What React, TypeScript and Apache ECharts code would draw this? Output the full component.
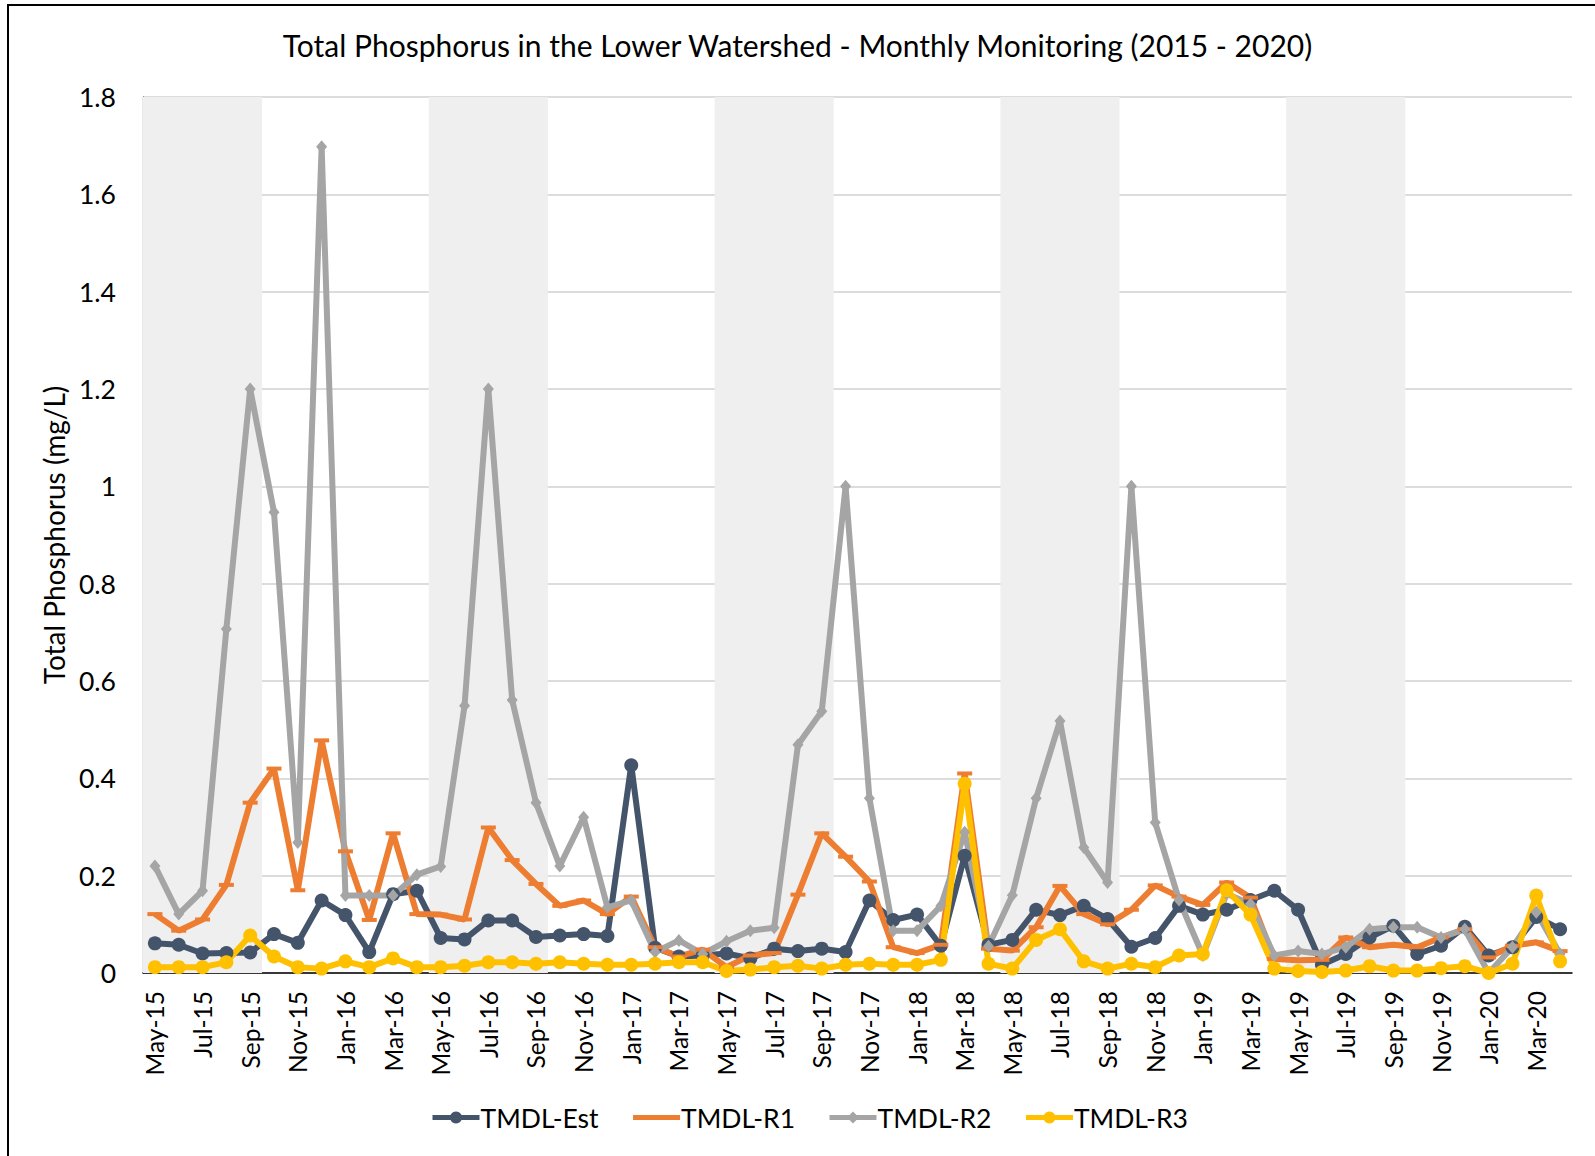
import React, { useEffect, useRef } from "react";
import * as echarts from "echarts";

const months: string[] = [
  "May-15", "Jun-15", "Jul-15", "Aug-15", "Sep-15", "Oct-15", "Nov-15", "Dec-15",
  "Jan-16", "Feb-16", "Mar-16", "Apr-16", "May-16", "Jun-16", "Jul-16", "Aug-16", "Sep-16", "Oct-16", "Nov-16", "Dec-16",
  "Jan-17", "Feb-17", "Mar-17", "Apr-17", "May-17", "Jun-17", "Jul-17", "Aug-17", "Sep-17", "Oct-17", "Nov-17", "Dec-17",
  "Jan-18", "Feb-18", "Mar-18", "Apr-18", "May-18", "Jun-18", "Jul-18", "Aug-18", "Sep-18", "Oct-18", "Nov-18", "Dec-18",
  "Jan-19", "Feb-19", "Mar-19", "Apr-19", "May-19", "Jun-19", "Jul-19", "Aug-19", "Sep-19", "Oct-19", "Nov-19", "Dec-19",
  "Jan-20", "Feb-20", "Mar-20", "Apr-20",
];

// Shaded monitoring seasons (first and last month of each band)
const seasonStart = "May";
const seasonEnd = "Sep";

const tmdlEst: number[] = [
  0.061, 0.058, 0.040, 0.041, 0.042, 0.080, 0.062, 0.149,
  0.119, 0.043, 0.162, 0.169, 0.072, 0.069, 0.108, 0.108, 0.074, 0.077, 0.080, 0.076,
  0.427, 0.052, 0.034, 0.036, 0.040, 0.030, 0.050, 0.045, 0.050, 0.043, 0.149, 0.109,
  0.120, 0.056, 0.241, 0.058, 0.068, 0.130, 0.119, 0.138, 0.111, 0.054, 0.072, 0.138,
  0.120, 0.130, 0.150, 0.169, 0.130, 0.017, 0.039, 0.073, 0.097, 0.039, 0.056, 0.095,
  0.036, 0.053, 0.115, 0.090,
];

const tmdlR1: number[] = [
  0.121, 0.087, 0.110, 0.181, 0.350, 0.420, 0.170, 0.478,
  0.250, 0.109, 0.287, 0.121, 0.120, 0.110, 0.299, 0.232, 0.183, 0.138, 0.149, 0.121,
  0.157, 0.053, 0.034, 0.048, 0.012, 0.036, 0.041, 0.161, 0.287, 0.239, 0.188, 0.053,
  0.041, 0.058, 0.410, 0.050, 0.046, 0.094, 0.179, 0.121, 0.100, 0.130, 0.180, 0.157,
  0.140, 0.186, 0.155, 0.029, 0.026, 0.027, 0.073, 0.053, 0.058, 0.053, 0.073, 0.090,
  0.032, 0.056, 0.063, 0.045,
];

const tmdlR2: number[] = [
  0.220, 0.121, 0.169, 0.707, 1.200, 0.947, 0.268, 1.698,
  0.159, 0.159, 0.159, 0.202, 0.219, 0.549, 1.200, 0.561, 0.350, 0.220, 0.320, 0.135,
  0.149, 0.043, 0.067, 0.039, 0.065, 0.087, 0.093, 0.469, 0.538, 1.000, 0.359, 0.087,
  0.087, 0.138, 0.289, 0.055, 0.160, 0.359, 0.518, 0.258, 0.186, 1.000, 0.309, 0.150,
  0.036, 0.163, 0.142, 0.036, 0.045, 0.039, 0.053, 0.090, 0.094, 0.094, 0.073, 0.090,
  0.000, 0.053, 0.125, 0.039,
];

const tmdlR3: number[] = [
  0.012, 0.012, 0.012, 0.022, 0.077, 0.034, 0.012, 0.009,
  0.024, 0.012, 0.030, 0.012, 0.012, 0.015, 0.022, 0.022, 0.019, 0.022, 0.019, 0.017,
  0.017, 0.019, 0.022, 0.022, 0.004, 0.007, 0.012, 0.015, 0.009, 0.017, 0.019, 0.017,
  0.017, 0.027, 0.389, 0.019, 0.009, 0.068, 0.090, 0.024, 0.009, 0.019, 0.012, 0.036,
  0.039, 0.170, 0.120, 0.009, 0.004, 0.002, 0.005, 0.014, 0.005, 0.005, 0.010, 0.014,
  0.000, 0.019, 0.159, 0.024,
];

const Y_MAX = 1.8;
const FONT = "Lato";

const seriesStyles = [
  { name: "TMDL-Est", data: tmdlEst, color: "#44546A", symbol: "circle", size: 14 },
  { name: "TMDL-R1", data: tmdlR1, color: "#ED7D31", symbol: "rect", size: [15, 4] },
  { name: "TMDL-R2", data: tmdlR2, color: "#A5A5A5", symbol: "diamond", size: [11, 13] },
  { name: "TMDL-R3", data: tmdlR3, color: "#FFC000", symbol: "circle", size: 14 },
];

export default function App() {
  const ref = useRef<HTMLDivElement>(null);

  useEffect(() => {
    document.body.style.margin = "0";
    if (!ref.current) return;
    const chart = echarts.init(ref.current, null, { renderer: "svg" });

    // season bands as [startIndex, endIndex] pairs built from the month list
    const bands: number[][] = [];
    months.forEach((m, i) => {
      if (m.startsWith(seasonStart)) bands.push([i, i]);
      if (m.startsWith(seasonEnd) && bands.length) bands[bands.length - 1][1] = i;
    });

    const lines = seriesStyles.map((s) => ({
      name: s.name,
      type: "line",
      data: s.data,
      symbol: s.symbol,
      symbolSize: s.size,
      showAllSymbol: true,
      lineStyle: { width: 6 },
      itemStyle: { borderWidth: 0 },
      color: s.color,
      z: 3,
    }));

    chart.setOption({
      animation: false,
      textStyle: { fontFamily: FONT },
      title: {
        text: "Total Phosphorus in the Lower Watershed - Monthly Monitoring (2015 - 2020)",
        left: "center",
        top: 25,
        textStyle: { fontFamily: FONT, fontSize: 30, fontWeight: "normal", color: "#000" },
      },
      graphic: [
        {
          type: "rect",
          shape: { x: 8, y: 5, width: 1700, height: 1300 },
          style: { fill: "none", stroke: "#000", lineWidth: 2 },
          silent: true,
        },
      ],
      legend: {
        data: [
          { name: "TMDL-Est" },
          { name: "TMDL-R1", itemStyle: { opacity: 0 } },
          { name: "TMDL-R2" },
          { name: "TMDL-R3" },
        ],
        bottom: 20,
        left: 425,
        itemWidth: 47,
        itemHeight: 15,
        itemGap: 32,
        lineStyle: { width: 5 },
        textStyle: { fontFamily: FONT, fontSize: 26.5, color: "#000", padding: [0, 0, 0, -4] },
      },
      grid: { left: 143, right: 23, top: 97, bottom: 183, containLabel: false },
      xAxis: {
        type: "category",
        data: months,
        boundaryGap: true,
        axisLine: { lineStyle: { color: "#000", width: 1.5 } },
        axisTick: { interval: 1, length: 9, lineStyle: { color: "#000", width: 1.5 } },
        axisLabel: {
          interval: 1,
          rotate: 90,
          margin: 18,
          fontSize: 24.5,
          color: "#000",
          fontFamily: FONT,
        },
        splitLine: { show: false },
      },
      yAxis: {
        type: "value",
        min: 0,
        max: Y_MAX,
        interval: 0.2,
        name: "Total Phosphorus (mg/L)",
        nameLocation: "middle",
        nameGap: 70,
        nameTextStyle: { fontFamily: FONT, fontSize: 28, color: "#000" },
        axisLine: { show: true, lineStyle: { color: "#222", width: 1.2 } },
        axisTick: { show: false },
        axisLabel: {
          margin: 27,
          fontSize: 26.5,
          color: "#000",
          fontFamily: FONT,
          formatter: (v: number) => String(Math.round(v * 10) / 10),
        },
        splitLine: { lineStyle: { color: "#D0D0D0", width: 1.5 } },
      },
      series: [
        {
          name: "season",
          type: "custom",
          data: bands,
          silent: true,
          z: 1,
          renderItem: (params: any, api: any) => {
            const s = api.value(0);
            const e = api.value(1);
            const w = api.size([1, 0])[0];
            const top = api.coord([s, Y_MAX]);
            const bot = api.coord([e, 0]);
            return {
              type: "rect",
              shape: {
                x: top[0] - w / 2,
                y: top[1],
                width: bot[0] - top[0] + w,
                height: bot[1] - top[1],
              },
              style: { fill: "#EFEFEF" },
            };
          },
        },
        ...lines,
      ],
    });

    return () => chart.dispose();
  }, []);

  return <div ref={ref} style={{ width: 1595, height: 1156 }} />;
}
